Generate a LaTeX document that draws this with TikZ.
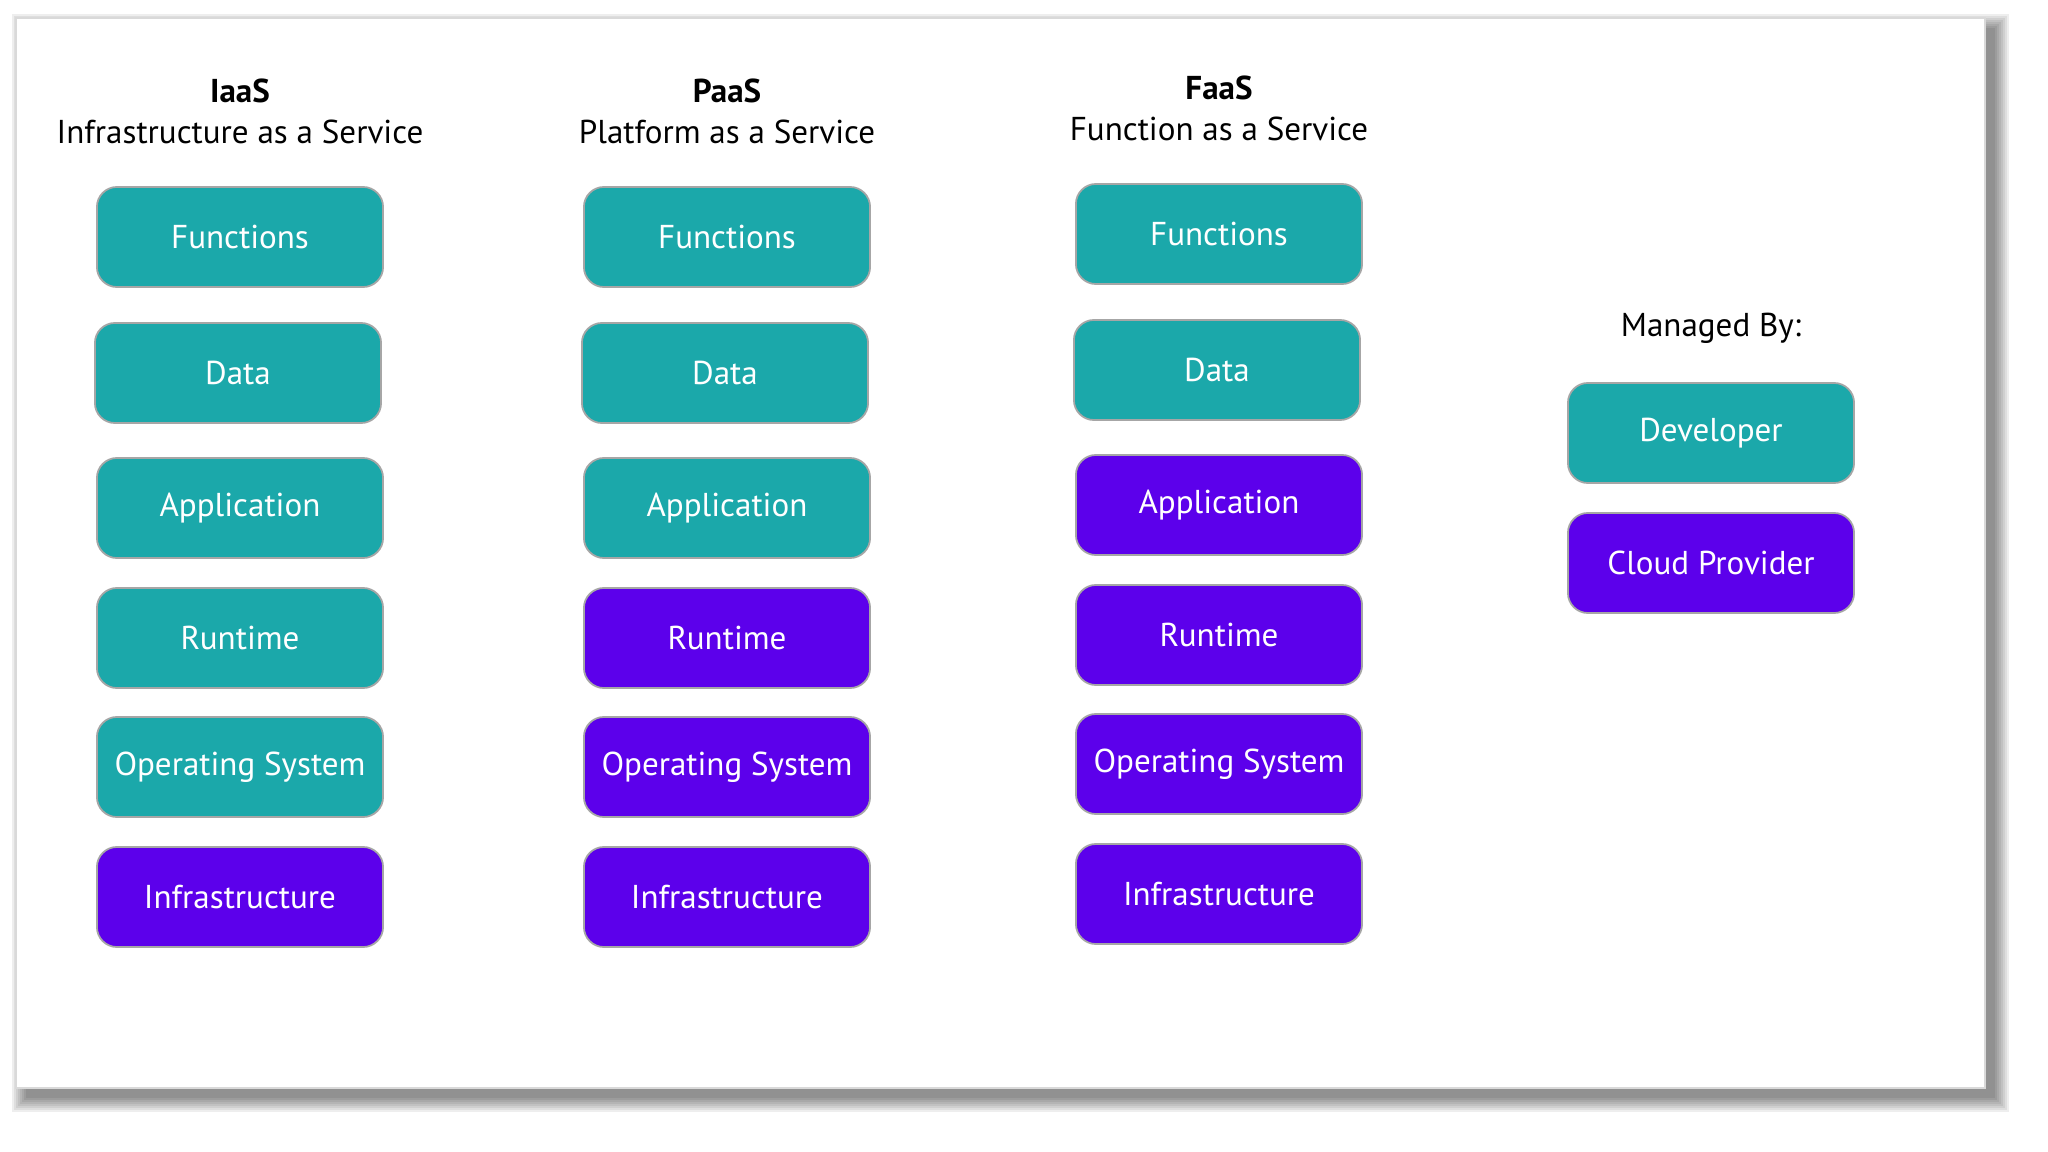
\documentclass[tikz,border=0pt]{standalone}
\usepackage{fontspec}
\setmainfont{PT Sans}
\definecolor{devteal}{RGB}{27,168,170}
\definecolor{cloudpurple}{RGB}{92,0,235}
\tikzset{
    layer/.style={rounded corners=0.2cm, minimum width=2.86cm, minimum height=1cm,
        draw=black!35, line width=0.5pt, text=white, font=\fontsize{9.4}{11}\selectfont},
    dev/.style={layer, fill=devteal},
    cloud/.style={layer, fill=cloudpurple},
    coltitle/.style={anchor=base, font=\bfseries\fontsize{9.4}{11}\selectfont},
    colsub/.style={anchor=base, font=\fontsize{9.4}{11}\selectfont}
}
\begin{document}
\begin{tikzpicture}[x=0.01cm,y=-0.01cm]
            \useasboundingbox (0,0) rectangle (2048,1152);
            \fill[white] (0,0) rectangle (2048,1152);
            % panel and its shadow
            \foreach \r in {0,2,...,14}
                \fill[black,opacity=0.065] (26-\r,28-\r) rectangle (1995+\r,1098+\r);
            \filldraw[fill=white,draw=black!15] (16,18) rectangle (1985,1088);
            % IaaS
            \node[coltitle] (iaastitle) at (240,103) {IaaS};
            \node[colsub] (iaassub) at (240,144) {Infrastructure as a Service};
            \node[dev] (iaasfun) at (240,237) {Functions};
            \node[dev] (iaasdata) at (238,373) {Data};
            \node[dev] (iaasapp) at (240,508) {Application};
            \node[dev] (iaasrun) at (240,638) {Runtime};
            \node[dev] (iaasos) at (240,767) {Operating System};
            \node[cloud] (iaasinfra) at (240,897) {Infrastructure};
            % PaaS
            \node[coltitle] (paastitle) at (727,103) {PaaS};
            \node[colsub] (paassub) at (727,144) {Platform as a Service};
            \node[dev] (paasfun) at (727,237) {Functions};
            \node[dev] (paasdata) at (725,373) {Data};
            \node[dev] (paasapp) at (727,508) {Application};
            \node[cloud] (paasrun) at (727,638) {Runtime};
            \node[cloud] (paasos) at (727,767) {Operating System};
            \node[cloud] (paasinfra) at (727,897) {Infrastructure};
            % FaaS
            \node[coltitle] (faastitle) at (1219,100) {FaaS};
            \node[colsub] (faassub) at (1219,141) {Function as a Service};
            \node[dev] (faasfun) at (1219,234) {Functions};
            \node[dev] (faasdata) at (1217,370) {Data};
            \node[cloud] (faasapp) at (1219,505) {Application};
            \node[cloud] (faasrun) at (1219,635) {Runtime};
            \node[cloud] (faasos) at (1219,764) {Operating System};
            \node[cloud] (faasinfra) at (1219,894) {Infrastructure};
            % legend
            \node[colsub] (managed) at (1711,337) {Managed By:};
            \node[dev] (developer) at (1711,433) {Developer};
            \node[cloud] (provider) at (1711,563) {Cloud Provider};
        \end{tikzpicture}
\end{document}
